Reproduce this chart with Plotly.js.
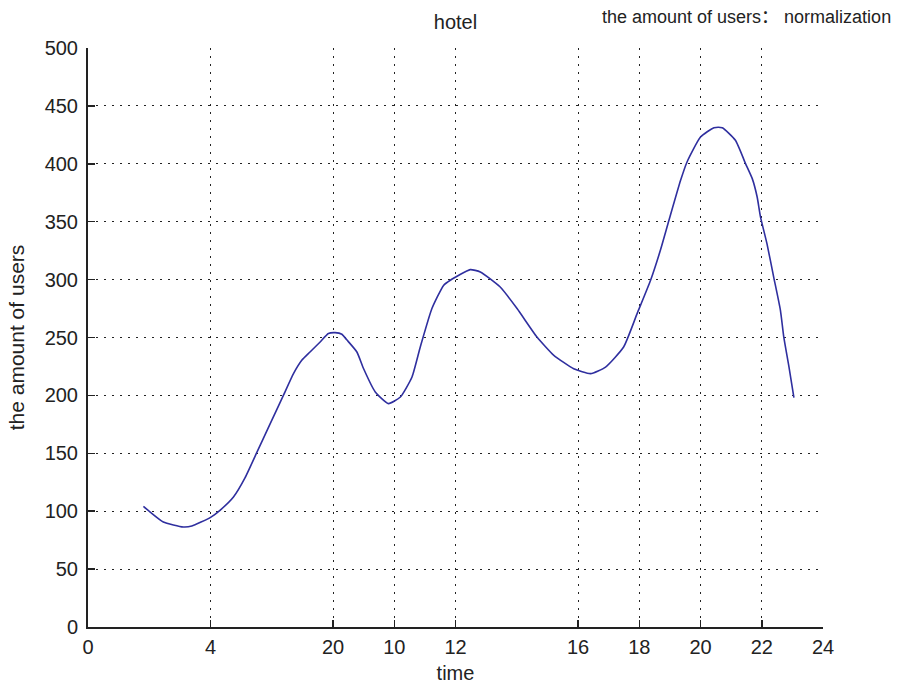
<!DOCTYPE html>
<html>
<head>
<meta charset="utf-8">
<script src="https://cdn.plot.ly/plotly-3.0.1.min.js"></script>
<style>html,body{margin:0;padding:0;background:#fff;}#chart{width:897px;height:684px;}</style>
</head>
<body>
<div id="chart"></div>
<script>
// time (hours) and amount of users
const timeValues = [1.81, 2.03, 2.46, 3.11, 3.39, 3.99, 4.31, 4.75, 5.13, 5.51, 5.95, 6.38, 6.71, 6.98, 7.25, 7.58, 7.85, 8.07, 8.29, 8.45, 8.78, 9.0, 9.38, 9.81, 10.2, 10.58, 10.85, 11.23, 11.61, 11.83, 12.48, 12.81, 13.46, 14.01, 14.66, 15.21, 15.86, 16.41, 16.9, 17.49, 17.93, 18.37, 18.69, 18.97, 19.35, 19.56, 20.0, 20.44, 20.71, 21.14, 21.47, 21.69, 21.85, 21.96, 22.17, 22.39, 22.61, 22.72, 22.89, 23.05];
const userValues = [104.2, 99.3, 90.7, 86.4, 87.2, 94.5, 100.8, 112.3, 129, 150.6, 175.6, 200, 218.8, 230.3, 237.5, 246.1, 253.4, 254.2, 252.8, 248, 237.5, 223, 203, 192.9, 198.6, 215.9, 241.8, 275, 295, 299.4, 308.6, 306.6, 293.6, 275, 250.4, 234.6, 223, 218.8, 224.5, 241.8, 270.6, 299.4, 325.3, 351.2, 385.7, 401.6, 423.1, 431.2, 431.2, 420.3, 400.2, 387.2, 371.3, 354, 331, 302.2, 273.5, 250.4, 224.5, 198];

const xTickVals = [0, 4, 8, 10, 12, 16, 18, 20, 22, 24];
const xTickText = ["0", "4", "20", "10", "12", "16", "18", "20", "22", "24"];
const yTickVals = [0, 50, 100, 150, 200, 250, 300, 350, 400, 450, 500];

const titleText = "hotel";
const noteText = "the amount of users： normalization";
const xLabel = "time";
const yLabel = "the amount of users";

const fontFam = "Liberation Sans, Arial, Noto Sans CJK SC, sans-serif";

const trace = {
  x: timeValues,
  y: userValues,
  type: "scatter",
  mode: "lines",
  line: {color: "#2f2f9f", width: 1.6, shape: "spline", smoothing: 0.5},
  hoverinfo: "skip"
};

const axisCommon = {
  showline: true,
  linecolor: "#222",
  linewidth: 2,
  ticks: "inside",
  ticklen: 7,
  tickwidth: 1.5,
  tickcolor: "#222",
  showgrid: true,
  gridcolor: "#222",
  gridwidth: 1,
  griddash: "2px,6px",
  zeroline: false,
  mirror: false,
  tickfont: {family: fontFam, size: 20, color: "#222"}
};

const layout = {
  width: 897,
  height: 684,
  paper_bgcolor: "#fff",
  plot_bgcolor: "#fff",
  margin: {l: 88, r: 74, t: 48, b: 57},
  showlegend: false,
  title: {
    text: titleText,
    font: {family: fontFam, size: 20, color: "#222"},
    x: 0.5, xref: "paper",
    y: 1 - 22 / 684, yref: "container", yanchor: "middle"
  },
  xaxis: Object.assign({}, axisCommon, {
    range: [0, 24],
    tickmode: "array",
    tickvals: xTickVals,
    ticktext: xTickText,
    ticklabelstandoff: 1,
    title: {text: xLabel, font: {family: fontFam, size: 20, color: "#222"}, standoff: 10}
  }),
  yaxis: Object.assign({}, axisCommon, {
    range: [0, 500],
    tickmode: "array",
    tickvals: yTickVals,
    ticklabelstandoff: 4,
    title: {text: yLabel, font: {family: fontFam, size: 21, color: "#222"}, standoff: 14}
  }),
  annotations: [{
    text: noteText,
    xref: "paper", yref: "paper",
    x: (893 - 88) / 735, y: 1 + (48 - 17) / 579,
    xanchor: "right", yanchor: "middle",
    showarrow: false,
    font: {family: fontFam, size: 18, color: "#222"}
  }]
};

Plotly.newPlot("chart", [trace], layout, {displayModeBar: false, staticPlot: true});
</script>
</body>
</html>
